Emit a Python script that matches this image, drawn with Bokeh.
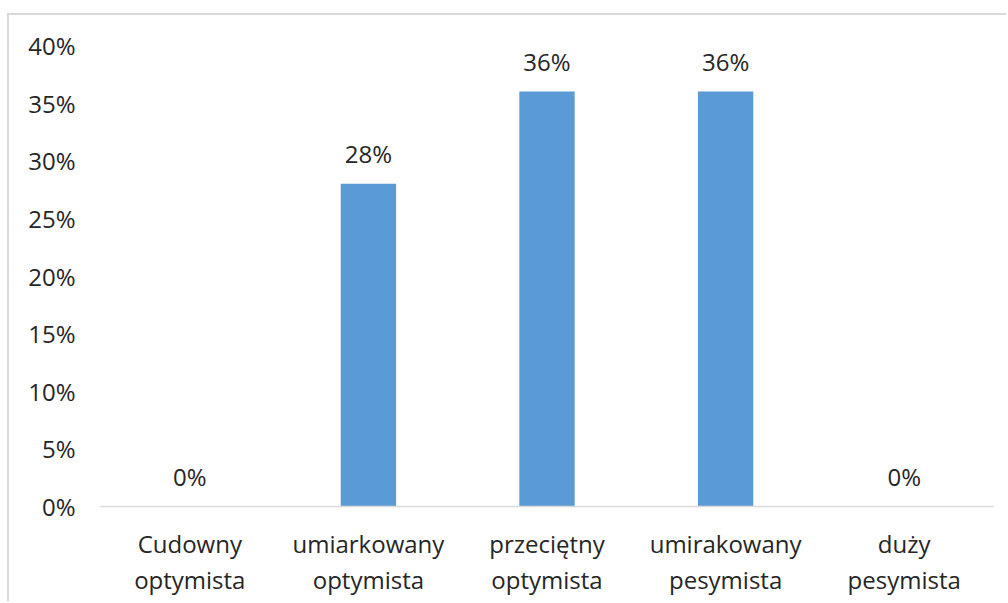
from bokeh.plotting import figure
from bokeh.models import ColumnDataSource, FixedTicker, NumeralTickFormatter, Range1d
from bokeh.core.properties import value
from bokeh.embed import file_html
from bokeh.resources import INLINE

categories = ["Cudowny\noptymista", "umiarkowany\noptymista", "przeciętny\noptymista",
              "umirakowany\npesymista", "duży\npesymista"]
shares = [0.00, 0.28, 0.36, 0.36, 0.00]
labels = ["0%", "28%", "36%", "36%", "0%"]
y_ticks = [0.0, 0.05, 0.10, 0.15, 0.20, 0.25, 0.30, 0.35, 0.40]

FONT = "Open Sans"
SIZE = "24px"
TEXT = "#262626"
BAR = "#5B9BD5"
GRID = "#D9D9D9"

src = ColumnDataSource(dict(cat=categories, val=shares, lab=labels))

p = figure(x_range=categories, y_range=Range1d(0, 0.4),
           width=999, height=588, output_backend="svg", toolbar_location=None,
           min_border_left=91, min_border_right=15, min_border_top=30, min_border_bottom=97,
           styles={"margin-left": "7px", "margin-top": "13px",
                   "border-left": f"2px solid {GRID}", "border-top": f"2px solid {GRID}"})
p.outline_line_color = None
p.grid.grid_line_color = None
p.x_range.range_padding = 0

p.vbar(x="cat", top="val", width=0.31, source=src, color=BAR, line_color=None)
p.text(x="cat", y="val", text="lab", source=src, text_align="center",
       text_baseline="alphabetic", y_offset=-30, text_font=value(FONT),
       text_font_size=SIZE, text_color=TEXT)

ya = p.yaxis[0]
ya.ticker = FixedTicker(ticks=y_ticks)
ya.formatter = NumeralTickFormatter(format="0%")
ya.axis_line_color = None
ya.major_tick_line_color = None
ya.minor_tick_line_color = None
ya.major_tick_out = 0
ya.major_label_standoff = 25
ya.major_label_text_font = FONT
ya.major_label_text_font_size = SIZE
ya.major_label_text_color = TEXT

xa = p.xaxis[0]
xa.axis_line_color = GRID
xa.axis_line_width = 1.5
xa.major_tick_line_color = None
xa.minor_tick_line_color = None
xa.major_tick_out = 0
xa.major_label_standoff = 20
xa.major_label_text_font = FONT
xa.major_label_text_font_size = SIZE
xa.major_label_text_color = TEXT
xa.major_label_text_line_height = 1.1

open("out.html", "w").write(file_html(p, INLINE))
